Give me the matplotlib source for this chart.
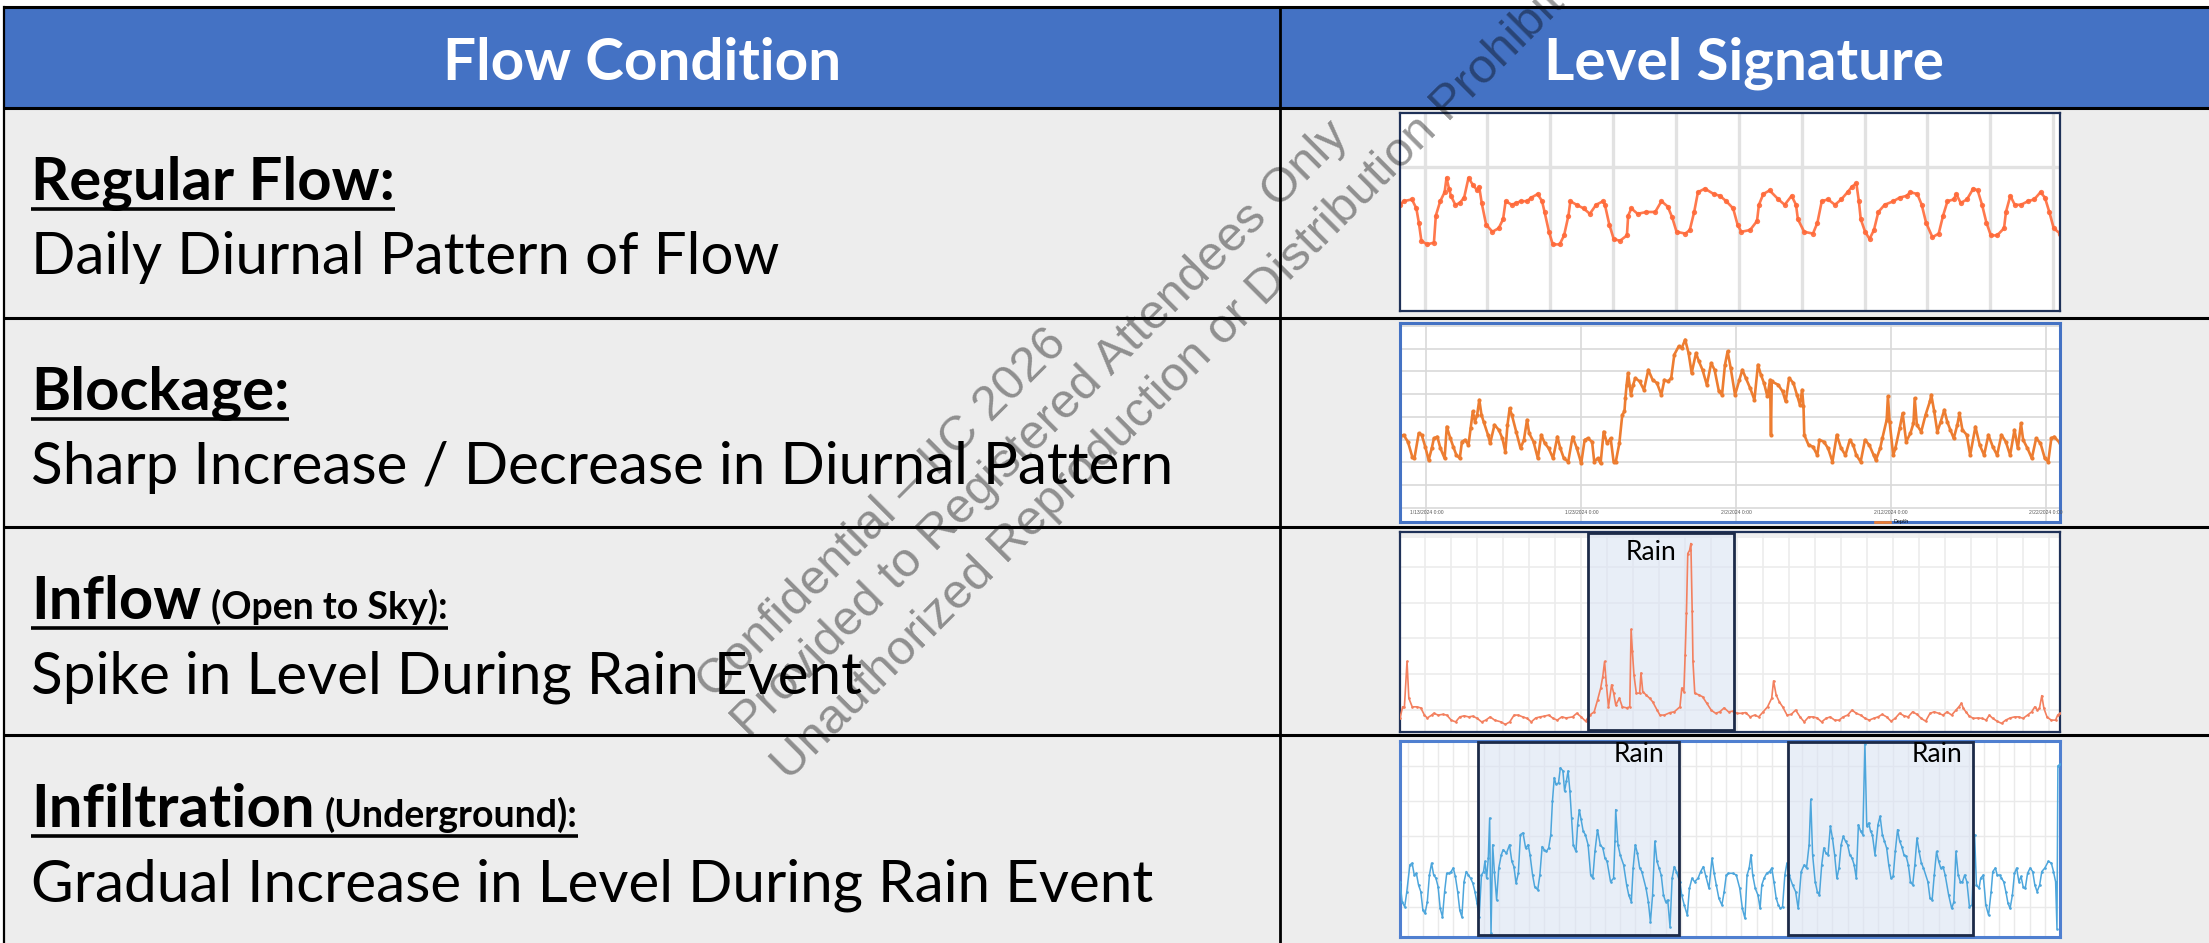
import matplotlib

matplotlib.use("Agg")
import matplotlib.pyplot as plt
import numpy as np
from matplotlib import font_manager
from matplotlib.patches import Rectangle

W, H = 2209, 943

# ---------------- table text ----------------
header_labels = ["Flow Condition", "Level Signature"]
row_titles = ["Regular Flow:", "Blockage:", "Inflow", "Infiltration"]
row_notes = ["", "", "(Open to Sky):", "(Underground):"]
row_descriptions = [
    "Daily Diurnal Pattern of Flow",
    "Sharp Increase / Decrease in Diurnal Pattern",
    "Spike in Level During Rain Event",
    "Gradual Increase in Level During Rain Event",
]
watermark_lines = [
    "Confidential \u2013 IIC 2026",
    "Provided to Registered Attendees Only",
    "Unauthorized Reproduction or Distribution Prohibited",
]

# ---------------- chart 1: regular flow ----------------
regular_day = [0.00, 0.06, 0.19, 0.26, 0.30, 0.34, 0.43, 0.54, 0.57, 0.64,
               0.71, 0.74, 0.78, 0.81, 0.88, 0.95, 1.02, 1.09, 1.16, 1.23,
               1.26, 1.30, 1.37, 1.47, 1.57, 1.64, 1.68, 1.78, 1.85, 1.92,
               2.02, 2.09, 2.19, 2.26, 2.30, 2.37, 2.43, 2.54, 2.61, 2.68,
               2.71, 2.81, 2.92, 3.02, 3.12, 3.23, 3.26, 3.33, 3.40, 3.50,
               3.61, 3.63, 3.68, 3.78, 3.92, 4.06, 4.16, 4.26, 4.33, 4.40,
               4.54, 4.61, 4.68, 4.74, 4.85, 4.99, 5.09, 5.19, 5.30, 5.37,
               5.43, 5.57, 5.68, 5.71, 5.78, 5.88, 6.02, 6.12, 6.23, 6.30,
               6.33, 6.43, 6.57, 6.64, 6.71, 6.81, 6.92, 7.02, 7.12, 7.19,
               7.26, 7.30, 7.33, 7.40, 7.47, 7.54, 7.61, 7.71, 7.85, 7.95,
               8.06, 8.12, 8.23, 8.30, 8.37, 8.47, 8.57, 8.64, 8.71, 8.81,
               8.85, 8.92, 9.02, 9.12, 9.19, 9.26, 9.33, 9.40, 9.50, 9.61,
               9.64, 9.71, 9.78, 9.88, 9.99, 10.09, 10.19, 10.26, 10.33, 10.40,
               10.50]
regular_level = [5.9, 6.1, 6.2, 5.7, 4.9, 3.9, 3.7, 3.8, 5.3, 6.1,
                 6.6, 7.4, 6.8, 6.4, 5.9, 6.0, 6.3, 7.4, 7.0, 6.7,
                 6.9, 6.0, 4.8, 4.4, 4.6, 5.1, 6.1, 5.9, 6.0, 6.1,
                 6.1, 6.3, 6.5, 6.1, 5.5, 4.4, 3.7, 3.7, 4.2, 5.3,
                 6.1, 5.9, 5.7, 5.4, 5.9, 6.1, 5.9, 4.8, 4.0, 3.9,
                 4.2, 5.3, 5.7, 5.4, 5.5, 5.5, 6.1, 5.8, 5.2, 4.4,
                 4.3, 4.5, 5.5, 6.6, 6.8, 6.5, 6.4, 6.1, 5.7, 4.8,
                 4.4, 4.5, 5.0, 5.9, 6.5, 6.7, 6.2, 5.9, 6.4, 5.9,
                 5.1, 4.4, 4.3, 4.9, 6.1, 6.2, 5.9, 6.2, 6.6, 6.9,
                 7.1, 6.1, 5.1, 4.4, 4.0, 4.5, 5.5, 5.9, 6.1, 6.3,
                 6.4, 6.6, 6.5, 5.9, 4.9, 4.1, 4.3, 5.3, 6.1, 6.2,
                 6.5, 6.0, 6.2, 6.8, 6.7, 5.9, 4.9, 4.2, 4.2, 4.6,
                 5.5, 6.4, 5.9, 5.9, 6.1, 6.2, 6.6, 6.3, 5.5, 4.6,
                 4.3]

# ---------------- chart 2: blockage (days since 1/13/2024) ----------------
blockage_day = [-1.71, -1.48, -1.20, -0.92, -0.78, -0.50, -0.31, -0.08, 0.14, 0.34,
                0.48, 0.70, 0.90, 1.17, 1.31, 1.54, 1.73, 1.93, 2.15, 2.29,
                2.49, 2.71, 2.85, 2.99, 3.13, 3.27, 3.41, 3.55, 3.69, 3.97,
                4.11, 4.39, 4.67, 4.90, 5.09, 5.23, 5.37, 5.51, 5.79, 6.07,
                6.29, 6.49, 6.63, 6.91, 7.19, 7.41, 7.64, 7.89, 8.17, 8.45,
                8.64, 8.87, 9.15, 9.43, 9.71, 9.99, 10.21, 10.41, 10.69, 10.83,
                11.05, 11.24, 11.44, 11.66, 11.89, 12.08, 12.22, 12.45, 12.64, 12.78,
                12.84, 12.92, 13.01, 13.20, 13.34, 13.48, 13.76, 14.04, 14.32, 14.60,
                14.88, 15.16, 15.36, 15.58, 15.80, 16.00, 16.28, 16.48, 16.70, 16.92,
                17.12, 17.40, 17.59, 17.82, 18.10, 18.38, 18.60, 18.88, 19.08, 19.27,
                19.44, 19.64, 19.92, 20.20, 20.39, 20.62, 20.90, 21.17, 21.40, 21.59,
                21.79, 22.01, 22.18, 22.24, 22.29, 22.71, 22.99, 23.19, 23.41, 23.69,
                23.92, 24.11, 24.25, 24.34, 24.39, 24.67, 24.95, 25.23, 25.37, 25.65,
                25.93, 26.21, 26.49, 26.77, 27.05, 27.33, 27.55, 27.75, 28.03, 28.31,
                28.59, 28.87, 29.01, 29.29, 29.43, 29.71, 29.79, 29.90, 30.13, 30.27,
                30.55, 30.74, 30.97, 31.24, 31.44, 31.52, 31.66, 31.94, 32.22, 32.50,
                32.59, 32.78, 32.98, 33.20, 33.43, 33.62, 33.82, 34.04, 34.27, 34.41,
                34.60, 34.88, 35.10, 35.44, 35.72, 36.00, 36.28, 36.56, 36.84, 37.12,
                37.40, 37.68, 37.96, 38.18, 38.38, 38.52, 38.80, 39.08, 39.36, 39.64,
                39.92, 40.14, 40.34, 40.53, 40.90]
blockage_level = [3.13, 3.21, 2.91, 2.25, 2.18, 3.28, 3.21, 2.69, 2.10, 2.62,
                  3.06, 3.13, 2.62, 2.18, 3.57, 3.06, 2.69, 2.32, 2.18, 2.91,
                  2.99, 2.76, 3.50, 4.24, 3.79, 4.09, 4.75, 4.09, 3.79, 3.21,
                  2.84, 3.65, 3.43, 3.06, 2.47, 3.65, 4.38, 4.09, 3.35, 2.62,
                  2.99, 3.87, 3.28, 2.91, 2.18, 3.21, 2.84, 2.62, 2.18, 3.13,
                  2.62, 2.18, 2.03, 3.13, 2.62, 1.96, 2.99, 3.06, 2.91, 2.03,
                  2.18, 1.96, 3.35, 2.84, 3.06, 2.03, 2.03, 2.84, 4.09, 4.24,
                  4.82, 5.41, 5.93, 4.97, 5.41, 5.71, 5.56, 5.19, 6.07, 5.63,
                  5.49, 4.97, 5.63, 5.56, 5.71, 6.74, 7.10, 7.03, 7.40, 6.81,
                  5.93, 6.81, 6.44, 6.07, 5.41, 6.37, 6.07, 5.12, 4.97, 6.29,
                  6.88, 6.15, 4.97, 5.63, 6.07, 5.71, 5.26, 4.75, 6.29, 5.85,
                  5.49, 4.90, 5.63, 3.21, 5.56, 5.41, 5.12, 4.68, 5.71, 5.49,
                  4.97, 4.53, 5.19, 4.46, 3.21, 2.76, 2.69, 2.32, 2.99, 2.91,
                  2.62, 2.03, 3.21, 2.62, 2.32, 2.99, 2.76, 2.32, 2.03, 2.99,
                  2.76, 2.32, 2.10, 2.62, 3.06, 3.87, 4.90, 3.79, 2.32, 2.62,
                  3.50, 4.16, 2.91, 3.28, 3.72, 4.82, 3.65, 3.35, 4.09, 4.68,
                  4.97, 4.24, 3.35, 3.79, 4.31, 3.79, 3.43, 3.06, 3.65, 4.16,
                  3.43, 3.21, 2.32, 3.57, 2.76, 2.32, 3.21, 2.69, 2.32, 3.21,
                  2.91, 2.32, 3.43, 2.62, 3.72, 2.99, 2.62, 2.18, 3.06, 2.84,
                  2.18, 2.03, 3.06, 3.13, 2.84]
blockage_tick_days = [0, 10, 20, 30, 40]
blockage_tick_labels = ["1/13/2024 0:00", "1/23/2024 0:00", "2/2/2024 0:00",
                        "2/12/2024 0:00", "2/22/2024 0:00"]

# ---------------- chart 3: inflow ----------------
inflow_day = [0.03, 0.13, 0.20, 0.30, 0.37, 0.50, 0.67, 0.83, 0.97, 1.08,
              1.25, 1.33, 1.50, 1.67, 1.83, 2.00, 2.17, 2.33, 2.50, 2.67,
              2.83, 3.00, 3.17, 3.33, 3.50, 3.67, 3.92, 4.08, 4.25, 4.42,
              4.58, 4.75, 4.92, 5.08, 5.25, 5.42, 5.58, 5.75, 5.92, 6.08,
              6.25, 6.42, 6.67, 6.83, 7.00, 7.17, 7.33, 7.50, 7.63, 7.75,
              7.83, 7.90, 7.97, 8.05, 8.17, 8.25, 8.33, 8.47, 8.58, 8.75,
              8.87, 8.92, 8.97, 9.03, 9.12, 9.25, 9.30, 9.37, 9.50, 9.63,
              9.75, 9.92, 10.03, 10.20, 10.42, 10.58, 10.80, 10.87, 10.95, 11.00,
              11.05, 11.10, 11.17, 11.22, 11.27, 11.30, 11.37, 11.53, 11.67, 11.83,
              12.00, 12.17, 12.33, 12.50, 12.67, 12.83, 13.00, 13.17, 13.33, 13.50,
              13.67, 13.83, 14.00, 14.17, 14.33, 14.40, 14.50, 14.62, 14.75, 14.92,
              15.08, 15.25, 15.42, 15.58, 15.75, 15.92, 16.08, 16.25, 16.42, 16.58,
              16.75, 16.92, 17.08, 17.25, 17.42, 17.58, 17.75, 17.92, 18.08, 18.25,
              18.42, 18.58, 18.75, 18.92, 19.08, 19.25, 19.42, 19.58, 19.75, 19.92,
              20.08, 20.25, 20.42, 20.58, 20.75, 20.92, 21.08, 21.25, 21.42, 21.53,
              21.63, 21.70, 21.80, 21.92, 22.08, 22.25, 22.42, 22.58, 22.70, 22.83,
              23.00, 23.17, 23.33, 23.50, 23.67, 23.83, 24.00, 24.17, 24.33, 24.45,
              24.55, 24.63, 24.72, 24.80, 24.92, 25.08, 25.25, 25.33, 25.42]
inflow_level = [0.78, 1.10, 1.10, 2.36, 1.34, 1.10, 1.10, 1.07, 0.87, 0.79,
                0.87, 0.92, 0.87, 0.89, 0.87, 0.73, 0.68, 0.82, 0.85, 0.82,
                0.84, 0.78, 0.68, 0.73, 0.82, 0.73, 0.68, 0.61, 0.68, 0.87,
                0.87, 0.82, 0.78, 0.68, 0.79, 0.82, 0.84, 0.87, 0.78, 0.73,
                0.82, 0.79, 0.82, 0.92, 0.82, 0.70, 0.87, 0.96, 1.29, 1.62,
                1.94, 2.36, 1.71, 1.10, 1.71, 1.48, 1.15, 1.34, 1.10, 1.07,
                1.10, 3.25, 2.64, 1.99, 1.48, 1.48, 2.04, 1.52, 1.43, 1.34,
                1.24, 1.01, 0.87, 0.87, 0.94, 0.96, 1.10, 1.62, 1.52, 2.55,
                3.72, 5.36, 5.45, 5.64, 3.77, 2.36, 1.48, 1.43, 1.38, 1.20,
                1.01, 0.92, 0.96, 1.07, 0.96, 0.98, 0.92, 0.92, 0.94, 0.82,
                0.87, 0.82, 0.96, 1.10, 1.34, 1.82, 1.43, 1.24, 1.10, 0.87,
                0.89, 1.01, 0.82, 0.68, 0.82, 0.82, 0.79, 0.68, 0.78, 0.82,
                0.73, 0.73, 0.82, 0.87, 1.01, 0.92, 0.87, 0.78, 0.73, 0.78,
                0.82, 0.89, 0.82, 0.70, 0.78, 0.92, 0.85, 0.82, 0.96, 0.89,
                0.78, 0.70, 0.92, 0.96, 0.92, 0.87, 0.96, 0.87, 1.01, 1.10,
                1.20, 1.06, 0.96, 0.85, 0.78, 0.79, 0.78, 0.73, 0.87, 0.78,
                0.70, 0.64, 0.73, 0.79, 0.82, 0.82, 0.78, 0.87, 0.96, 1.10,
                1.01, 1.06, 1.41, 1.06, 0.82, 0.73, 0.73, 0.87, 0.92]
inflow_rain = [(7.25, 12.88)]

# ---------------- chart 4: infiltration ----------------
infil_day = [0.49, 0.63, 0.80, 0.94, 1.14, 1.29, 1.43, 1.57, 1.71, 1.86,
             2.00, 2.14, 2.29, 2.43, 2.57, 2.71, 2.86, 3.00, 3.14, 3.29,
             3.43, 3.57, 3.71, 3.86, 4.00, 4.14, 4.29, 4.43, 4.57, 4.71,
             4.86, 5.00, 5.14, 5.29, 5.43, 5.57, 5.71, 5.86, 6.00, 6.09,
             6.20, 6.31, 6.40, 6.49, 6.60, 6.71, 6.86, 7.00, 7.17, 7.29,
             7.51, 7.71, 7.86, 8.00, 8.14, 8.29, 8.43, 8.60, 8.77, 8.94,
             9.06, 9.23, 9.37, 9.57, 9.71, 9.86, 10.00, 10.14, 10.29, 10.43,
             10.54, 10.66, 10.77, 10.94, 11.06, 11.23, 11.34, 11.46, 11.57, 11.69,
             11.80, 11.91, 12.09, 12.20, 12.31, 12.43, 12.57, 12.71, 12.89, 13.06,
             13.20, 13.34, 13.51, 13.69, 13.86, 14.00, 14.14, 14.37, 14.57, 14.66,
             14.71, 14.86, 15.00, 15.23, 15.43, 15.57, 15.74, 15.86, 16.00, 16.14,
             16.29, 16.43, 16.71, 16.86, 17.00, 17.14, 17.29, 17.43, 17.57, 17.71,
             17.86, 18.00, 18.14, 18.29, 18.43, 18.57, 18.71, 18.94, 19.06, 19.23,
             19.43, 19.57, 19.74, 19.91, 20.14, 20.31, 20.49, 20.66, 20.86, 21.06,
             21.20, 21.34, 21.51, 21.71, 21.86, 22.00, 22.14, 22.43, 22.66, 22.89,
             23.06, 23.23, 23.37, 23.51, 23.63, 23.74, 23.91, 24.09, 24.23, 24.34,
             24.49, 24.66, 24.86, 25.00, 25.14, 25.29, 25.43, 25.57, 25.71, 25.86,
             26.00, 26.14, 26.37, 26.57, 26.74, 26.94, 27.14, 27.29, 27.46, 27.57,
             27.69, 27.86, 28.00, 28.14, 28.29, 28.43, 28.57, 28.71, 28.86, 29.00,
             29.14, 29.29, 29.43, 29.57, 29.71, 29.86, 30.00, 30.14, 30.29, 30.43,
             30.57, 30.71, 30.86, 31.00, 31.14, 31.26, 31.40, 31.51, 31.63, 31.80,
             32.00, 32.14, 32.29, 32.43, 32.57, 32.71, 32.86, 33.00, 33.14, 33.29,
             33.43, 33.57, 33.71, 33.86, 34.00, 34.14, 34.29, 34.43, 34.57, 34.71,
             34.86, 35.00, 35.29, 35.43, 35.57, 35.71, 35.86, 36.00, 36.14, 36.29,
             36.43, 36.66, 36.86, 37.00, 37.14, 37.29, 37.43, 37.57, 37.71, 37.86,
             38.03, 38.20, 38.37, 38.49, 38.66, 38.77, 38.94, 39.11, 39.29, 39.46,
             39.57, 39.74, 39.86, 40.03, 40.14, 40.29, 40.43, 40.57, 40.71, 40.86,
             41.00, 41.14, 41.29, 41.43, 41.57, 41.71, 41.86, 42.03, 42.20, 42.34,
             42.49, 42.66, 42.80, 43.00, 43.23, 43.43, 43.57, 43.71, 43.80, 43.86,
             44.00]
infil_level = [1.71, 1.14, 1.00, 1.43, 2.19, 2.24, 1.90, 1.95, 1.62, 1.43,
               0.90, 0.81, 1.14, 1.90, 2.24, 1.90, 1.81, 1.57, 0.95, 0.71,
               1.43, 1.95, 1.95, 2.00, 2.10, 1.86, 1.43, 0.90, 0.71, 1.71,
               2.00, 1.90, 1.81, 1.67, 1.43, 1.10, 0.71, 1.90, 2.00, 2.29,
               1.81, 2.38, 3.52, 0.24, 2.76, 2.00, 1.19, 2.10, 2.48, 2.62,
               2.52, 2.76, 2.29, 2.14, 1.67, 1.95, 3.05, 3.10, 2.67, 2.76,
               2.48, 1.90, 1.57, 1.48, 1.90, 2.71, 2.62, 2.57, 2.67, 3.05,
               4.00, 4.67, 4.48, 4.52, 4.95, 4.86, 4.29, 4.57, 4.86, 4.29,
               3.52, 2.76, 2.57, 3.33, 3.76, 3.48, 3.14, 3.05, 2.76, 1.90,
               1.81, 2.57, 3.19, 2.76, 2.67, 2.38, 2.29, 1.71, 1.81, 2.86,
               3.76, 2.76, 2.48, 2.19, 1.62, 1.33, 1.14, 2.10, 2.76, 2.52,
               2.10, 2.00, 1.52, 1.14, 0.57, 1.33, 2.86, 2.29, 2.10, 1.90,
               1.33, 1.14, 1.19, 0.43, 1.81, 2.14, 2.00, 1.71, 1.33, 1.05,
               0.76, 1.52, 1.81, 1.71, 1.81, 2.00, 2.14, 1.86, 1.52, 2.38,
               1.95, 1.62, 1.24, 1.05, 1.43, 1.90, 1.95, 1.95, 1.90, 1.52,
               0.95, 0.67, 1.90, 2.10, 2.48, 1.90, 1.52, 1.33, 0.95, 1.62,
               1.81, 1.95, 2.00, 2.10, 1.71, 1.24, 1.05, 0.95, 1.00, 1.90,
               2.24, 1.90, 1.62, 1.43, 0.95, 2.00, 2.19, 2.10, 2.76, 4.05,
               2.48, 1.71, 1.43, 1.33, 2.19, 2.67, 2.52, 2.48, 3.29, 2.95,
               2.48, 1.81, 2.10, 2.76, 3.00, 2.86, 2.76, 2.48, 2.38, 2.19,
               1.81, 3.33, 3.14, 3.05, 5.62, 3.29, 3.38, 3.14, 3.05, 2.48,
               3.33, 3.57, 3.05, 2.86, 2.67, 2.19, 1.81, 1.86, 2.57, 3.19,
               2.86, 2.71, 2.48, 2.43, 2.19, 1.71, 1.62, 2.19, 2.95, 2.57,
               2.24, 2.10, 1.71, 1.24, 1.19, 1.90, 2.57, 2.29, 2.10, 2.14,
               1.90, 1.33, 0.95, 1.14, 2.57, 1.90, 1.71, 1.71, 1.90, 1.71,
               1.00, 1.05, 3.05, 1.62, 1.52, 1.81, 1.90, 1.05, 0.76, 1.43,
               2.00, 2.10, 1.90, 1.90, 1.81, 1.71, 1.43, 1.10, 0.95, 1.33,
               1.95, 2.10, 1.71, 1.86, 1.57, 1.52, 1.95, 2.10, 2.00, 1.62,
               1.43, 1.62, 2.00, 2.10, 2.29, 2.24, 2.00, 1.71, 0.38, 5.00,
               5.05]
infil_rain = [(5.66, 18.86), (26.09, 38.29)]

# ---------------- layout (pixels) ----------------
TABLE_LEFT = 4
COL_SPLIT = 1280
HEADER_TOP, HEADER_BOTTOM = 7, 108
ROW_TOPS = [108, 318, 527, 735]
TEXT_X = 31
CHART_X = (1400, 2060)
CHART_Y = [(113, 311), (323, 522), (532, 732), (741, 937)]

HEADER_BLUE = "#4472C4"
CELL_GRAY = "#EDEDED"
NAVY = "#1F3158"


def pick_family(candidates):
    names = {f.name for f in font_manager.fontManager.ttflist}
    for name in candidates:
        if name in names:
            return name
    return "DejaVu Sans"


TEXT_FONT = pick_family(["Lato", "Roboto", "Open Sans"])
MARK_FONT = pick_family(["Liberation Sans", "Arimo", "DejaVu Sans"])

fig = plt.figure(figsize=(W / 100, H / 100), dpi=100)
fig.patch.set_facecolor("white")

bg = fig.add_axes([0, 0, 1, 1])
bg.set_xlim(0, W)
bg.set_ylim(H, 0)
bg.axis("off")

bg.add_patch(Rectangle((TABLE_LEFT, HEADER_TOP), W - TABLE_LEFT,
                       HEADER_BOTTOM - HEADER_TOP, facecolor=HEADER_BLUE,
                       edgecolor="none"))
bg.add_patch(Rectangle((TABLE_LEFT, HEADER_BOTTOM), W - TABLE_LEFT,
                       H - HEADER_BOTTOM, facecolor=CELL_GRAY, edgecolor="none"))
for y in [HEADER_TOP] + ROW_TOPS:
    bg.plot([TABLE_LEFT, W], [y, y], color="black", lw=2.2,
            solid_capstyle="butt")
bg.plot([TABLE_LEFT, TABLE_LEFT], [HEADER_TOP, H], color="black", lw=1.6)
bg.plot([COL_SPLIT, COL_SPLIT], [HEADER_TOP, H], color="black", lw=2.0)

# header labels
for label, (x0, x1) in zip(header_labels, [(TABLE_LEFT, COL_SPLIT), (COL_SPLIT, W)]):
    bg.text((x0 + x1) / 2, 80, label, color="white", fontsize=42,
            fontweight="bold", family=TEXT_FONT, ha="center", va="baseline")

# rows
title_texts = []
for top, title, desc in zip(ROW_TOPS, row_titles, row_descriptions):
    t = bg.text(TEXT_X, top + 92, title, fontsize=43, fontweight="bold",
                family=TEXT_FONT, ha="left", va="baseline", color="black")
    title_texts.append(t)
    bg.text(TEXT_X, top + 166, desc, fontsize=42, family=TEXT_FONT,
            ha="left", va="baseline", color="black")

fig.canvas.draw()
renderer = fig.canvas.get_renderer()
for top, t, note in zip(ROW_TOPS, title_texts, row_notes):
    x_end = t.get_window_extent(renderer).x1
    if note:
        n = bg.text(x_end + 10, top + 92, note, fontsize=27,
                    fontweight="bold", family=TEXT_FONT, ha="left",
                    va="baseline", color="black")
        x_end = n.get_window_extent(renderer).x1
    bg.plot([TEXT_X, x_end], [top + 101, top + 101], color="black", lw=2.6,
            solid_capstyle="butt")


def chart_axes(i, edge, lw):
    x0, x1 = CHART_X
    y0, y1 = CHART_Y[i]
    ax = fig.add_axes([x0 / W, 1 - y1 / H, (x1 - x0) / W, (y1 - y0) / H])
    ax.set_facecolor("white")
    for s in ax.spines.values():
        s.set_color(edge)
        s.set_linewidth(lw)
    ax.tick_params(length=0, labelbottom=False, labelleft=False)
    ax.set_axisbelow(True)
    return ax


def add_rain(ax, spans, label_x, label_ha, label_y):
    for (a, b), lx in zip(spans, label_x):
        ax.add_patch(Rectangle((a, 0.01), b - a, 0.985,
                               transform=ax.get_xaxis_transform(),
                               facecolor="#DAE3F3", alpha=0.6,
                               edgecolor="none", zorder=1.5))
        ax.add_patch(Rectangle((a, 0.01), b - a, 0.985,
                               transform=ax.get_xaxis_transform(),
                               facecolor="none", edgecolor="#1C2A48",
                               lw=2.0, zorder=4))
        ax.text(lx, label_y, "Rain", transform=ax.get_xaxis_transform(),
                fontsize=19, family=TEXT_FONT, ha=label_ha,
                va="center", color="black", zorder=5)


# chart 1: regular flow
ax1 = chart_axes(0, NAVY, 1.6)
ax1.set_xlim(0, 10.5)
ax1.set_ylim(0, 11)
ax1.set_xticks(np.arange(0.39, 10.6, 1.0))
ax1.set_yticks([8])
ax1.grid(True, color="#E2E2E2", lw=2.4)
ax1.plot(regular_day, regular_level, color="#FF6A3A", lw=1.9, marker="o",
         ms=3.8, mew=0, alpha=0.9)

# chart 2: blockage
ax2 = chart_axes(1, HEADER_BLUE, 2.2)
ax2.set_xlim(-1.71, 40.9)
ax2.set_ylim(-0.62, 8.13)
ax2.set_xticks(blockage_tick_days)
ax2.set_yticks(range(0, 9))
ax2.grid(True, color="#D9D9D9", lw=1.2)
ax2.plot(blockage_day, blockage_level, color="#ED7D31", lw=1.9, marker="o",
         ms=3.0, mew=0, label="Depth")
for d, lab in zip(blockage_tick_days, blockage_tick_labels):
    ax2.text(d, -0.21, lab, fontsize=3.6, color="#595959", ha="center",
             va="center", family=MARK_FONT)
ax2.legend(loc="lower center", bbox_to_anchor=(0.745, -0.035), fontsize=3.6,
           frameon=False, handlelength=3, markerscale=0.5)

# chart 3: inflow
ax3 = chart_axes(2, NAVY, 1.6)
ax3.set_xlim(0.03, 25.42)
ax3.set_ylim(0.40, 5.96)
ax3.set_xticks(range(1, 26))
ax3.set_yticks(range(1, 6))
ax3.grid(True, color="#ECECEC", lw=1.2)
ax3.axhspan(5.79, 5.96, color="#EFEFEF", lw=0, zorder=0.5)
add_rain(ax3, inflow_rain, [9.67], "center", 0.9)
ax3.plot(inflow_day, inflow_level, color="#F3805F", lw=1.2, marker=".",
         ms=1.8, zorder=3)

# chart 4: infiltration
ax4 = chart_axes(3, "#4F7FD0", 2.2)
ax4.set_xlim(0.49, 44.0)
ax4.set_ylim(0.14, 5.71)
ax4.set_xticks(range(1, 44))
ax4.set_yticks(range(1, 6))
ax4.grid(True, color="#EAEAEA", lw=1.0)
add_rain(ax4, infil_rain, [17.95, 37.57], "right", 0.93)
ax4.plot(infil_day, infil_level, color="#4DA6DC", lw=1.1, marker=".",
         ms=1.8, zorder=3)

# watermark on top of everything
wm = fig.add_axes([0, 0, 1, 1])
wm.set_xlim(0, W)
wm.set_ylim(H, 0)
wm.axis("off")
for (sx, sy), line in zip([(714, 700), (749, 739), (789, 782)], watermark_lines):
    wm.text(sx, sy, line, fontsize=35.5, family=MARK_FONT, color="black",
            alpha=0.4, rotation=45, rotation_mode="anchor", ha="left",
            va="baseline")

fig.savefig("out.png", dpi=100)
